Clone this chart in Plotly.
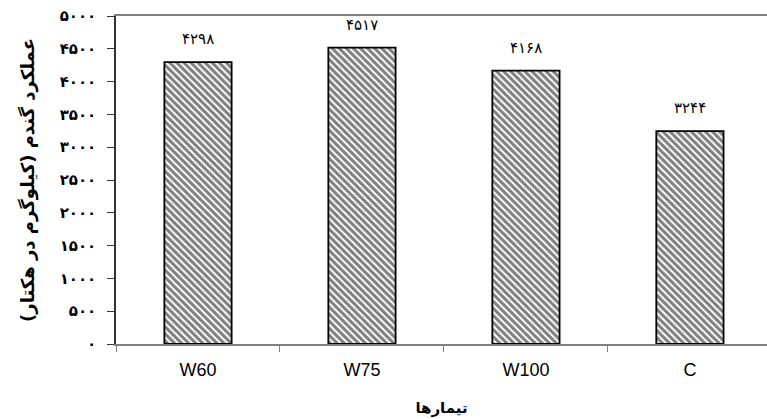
import plotly.graph_objects as go

# Wheat yield per irrigation treatment (kg/ha)
treatments = ["W60", "W75", "W100", "C"]
yield_kg_ha = [4298, 4517, 4168, 3244]
y_ticks = [0, 500, 1000, 1500, 2000, 2500, 3000, 3500, 4000, 4500, 5000]

PERSIAN_DIGITS = str.maketrans("0123456789", "۰۱۲۳۴۵۶۷۸۹")


def fa(n):
    return str(n).translate(PERSIAN_DIGITS)


fa_font = "DejaVu Sans, Noto Sans, sans-serif"

fig = go.Figure()
fig.add_trace(go.Bar(
    x=treatments,
    y=yield_kg_ha,
    width=0.41,
    marker=dict(
        color="white",
        line=dict(color="black", width=1.8),
        pattern=dict(shape="\\", fgcolor="black", bgcolor="white",
                     size=5, solidity=0.6),
    ),
    hoverinfo="skip",
))

# Value labels above each bar
for t, v in zip(treatments, yield_kg_ha):
    fig.add_annotation(x=t, y=v, text=fa(v), showarrow=False, yshift=23,
                       font=dict(family=fa_font, size=15, color="black"))

fig.update_layout(
    width=767, height=419,
    margin=dict(l=116, r=0, t=16, b=75),
    paper_bgcolor="white", plot_bgcolor="white",
    showlegend=False,
    bargap=0.59,
)

fig.update_xaxes(
    range=[-0.5, 3.47],
    tickson="boundaries",
    ticks="outside", ticklen=6, tickcolor="#808080", tickwidth=1,
    showline=True, linecolor="#808080", linewidth=2, mirror=True,
    showgrid=False,
    ticklabelstandoff=8,
    tickfont=dict(family="Liberation Sans, Arial, sans-serif", size=18, color="black"),
    title=dict(text="<b>تیمارها</b>", font=dict(family=fa_font, size=15, color="black"),
               standoff=24),
)

fig.update_yaxes(
    range=[0, 5000],
    tickvals=y_ticks,
    ticktext=["<b>" + fa(v) + "</b>" for v in y_ticks],
    ticks="outside", ticklen=7, tickcolor="#333333", tickwidth=1,
    showline=True, linecolor="#333333", linewidth=1.5,
    showgrid=False, zeroline=False,
    ticklabelstandoff=8,
    tickfont=dict(family=fa_font, size=15, color="black"),
    title=dict(text="<b>عملکرد گندم (کیلوگرم در هکتار)</b>",
               font=dict(family=fa_font, size=18, color="black"),
               standoff=20),
)

fig.write_html("out.html")
